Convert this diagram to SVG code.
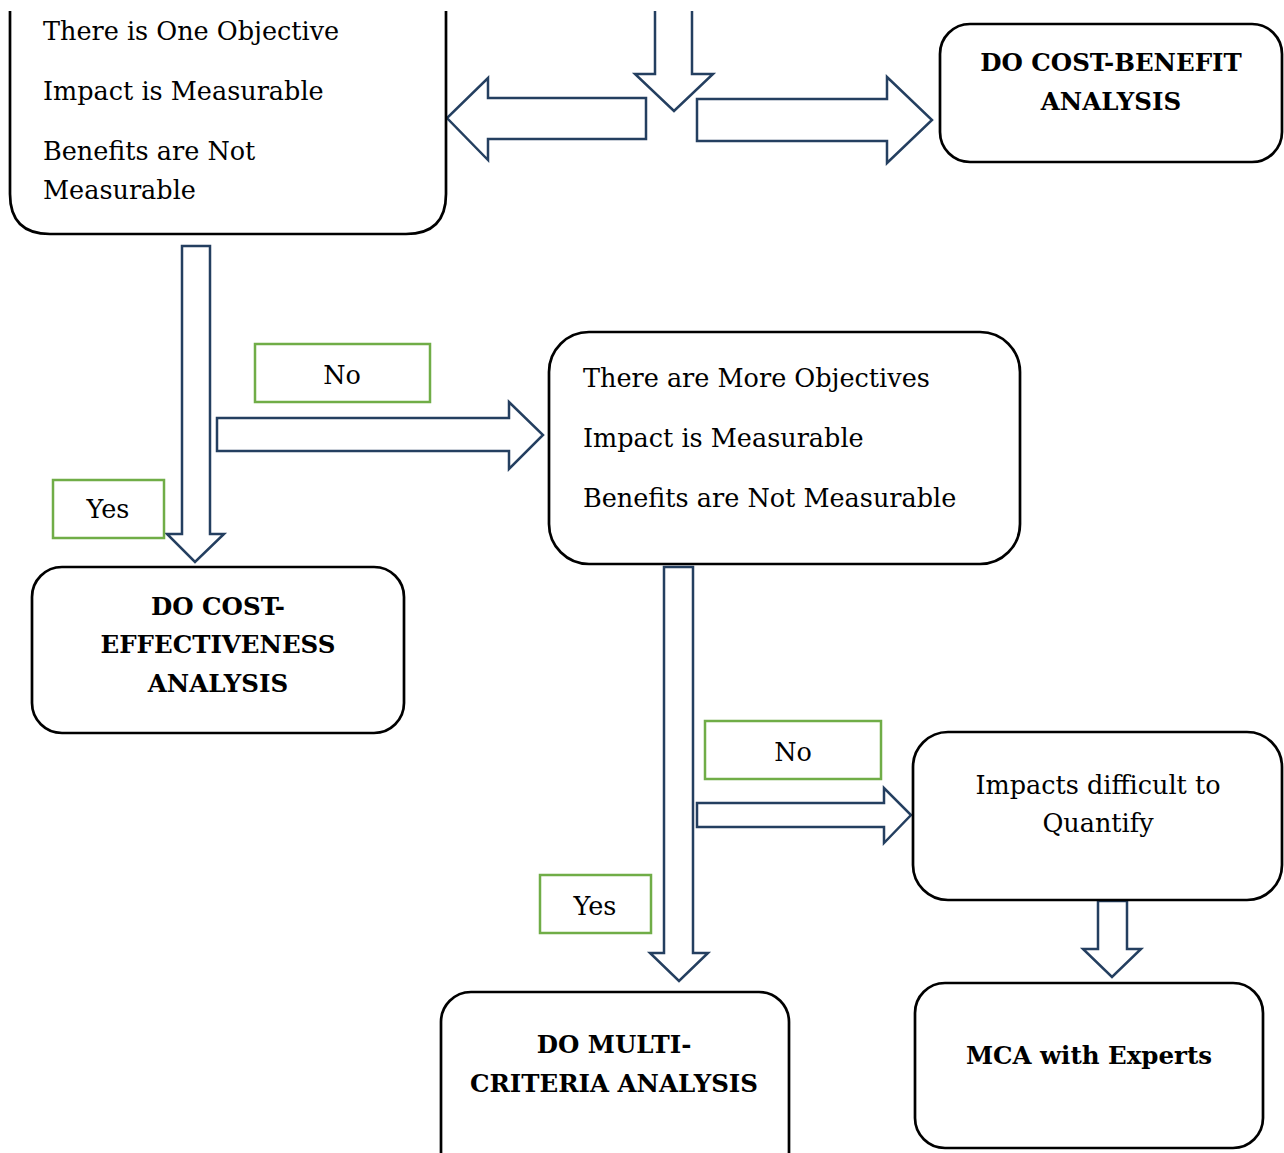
<svg xmlns="http://www.w3.org/2000/svg" width="1284" height="1153" viewBox="0 0 1284 1153">
<style>
.box{fill:#fff;stroke:#000;stroke-width:2.7}
.lbl{fill:#fff;stroke:#70AD47;stroke-width:2.5}
.arr{fill:#fff;stroke:#243F60;stroke-width:2.5;stroke-linejoin:miter}
text{font-family:"DejaVu Serif","Liberation Serif",serif;font-size:25.5px;fill:#000}
.b{font-weight:bold;font-size:24.5px}
.c{text-anchor:middle}
</style>
<rect width="1284" height="1153" fill="#fff"/>
<g id="connectors">
<path class="arr" d="M655,11 V74 H635 L674,111 L713,74 H692 V11"/>
<path class="arr" d="M646,98 H488 V78 L447,118 L488,160 V139 H646 Z"/>
<path class="arr" d="M697,99 H887 V77 L932,120 L887,163 V141 H697 Z"/>
<path class="arr" d="M182,246 H210 V534 H224 L195,562 L167,534 H182 Z"/>
<path class="arr" d="M217,418 H509 V402 L543,435 L509,469 V451 H217 Z"/>
<path class="arr" d="M664,567 H693 V953 H708 L679,981 L650,953 H664 Z"/>
<path class="arr" d="M697,803 H884 V788 L911,815 L884,843 V827 H697 Z"/>
<path class="arr" d="M1098,901 H1127 V949 H1141 L1112,977 L1083,949 H1098 Z"/>
</g>
<g id="n-one-objective">
<path class="box" d="M10,11 V194 Q10,234 50,234 H406 Q446,234 446,194 V11"/>
<text x="43" y="40">There is One Objective</text>
<text x="43" y="100">Impact is Measurable</text>
<text x="43" y="160">Benefits are Not</text>
<text x="43" y="199">Measurable</text>
</g>
<g id="n-cba">
<rect class="box" x="940" y="24" width="342" height="138" rx="30"/>
<text class="b c" x="1111" y="71">DO COST-BENEFIT</text>
<text class="b c" x="1111" y="110">ANALYSIS</text>
</g>
<g id="l-no1">
<rect class="lbl" x="255" y="344" width="175" height="58"/>
<text class="c" x="342" y="384">No</text>
</g>
<g id="l-yes1">
<rect class="lbl" x="53" y="480" width="111" height="58"/>
<text class="c" x="108" y="518">Yes</text>
</g>
<g id="n-cea">
<rect class="box" x="32" y="567" width="372" height="166" rx="30"/>
<text class="b c" x="218" y="615">DO COST-</text>
<text class="b c" x="218" y="653">EFFECTIVENESS</text>
<text class="b c" x="218" y="692">ANALYSIS</text>
</g>
<g id="n-more-objectives">
<rect class="box" x="549" y="332" width="471" height="232" rx="40"/>
<text x="583" y="387">There are More Objectives</text>
<text x="583" y="447">Impact is Measurable</text>
<text x="583" y="507">Benefits are Not Measurable</text>
</g>
<g id="l-no2">
<rect class="lbl" x="705" y="721" width="176" height="58"/>
<text class="c" x="793" y="761">No</text>
</g>
<g id="l-yes2">
<rect class="lbl" x="540" y="875" width="111" height="58"/>
<text class="c" x="595" y="915">Yes</text>
</g>
<g id="n-impacts">
<rect class="box" x="913" y="732" width="369" height="168" rx="35"/>
<text class="c" x="1098" y="794">Impacts difficult to</text>
<text class="c" x="1098" y="832">Quantify</text>
</g>
<g id="n-mca-experts">
<rect class="box" x="915" y="983" width="348" height="165" rx="30"/>
<text class="b c" x="1089" y="1064">MCA with Experts</text>
</g>
<g id="n-mca">
<rect class="box" x="441" y="992" width="348" height="200" rx="30"/>
<text class="b c" x="614" y="1053">DO MULTI-</text>
<text class="b c" x="614" y="1092">CRITERIA ANALYSIS</text>
</g>
</svg>
